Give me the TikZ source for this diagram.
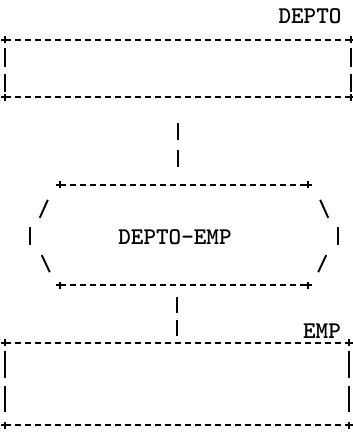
\documentclass[tikz,border=0pt]{standalone}
\usetikzlibrary{calc}
\begin{document}
\begin{tikzpicture}[x=1pt,y=-1pt,
  rule/.style={line width=1.9pt, dash pattern=on 6.5pt off 3.5pt},
  bar/.style={line width=1.9pt},
  link/.style={line width=1.9pt},
  lbl/.style={font=\ttfamily\bfseries\fontsize{24}{24}\selectfont, inner sep=0pt},
  entbox/.style={minimum width=#1, inner sep=0pt, draw=none}
]
\useasboundingbox (0,0) rectangle (353,432);

% entity and relationship frames (invisible, used for anchors)
\node[entbox=346pt, minimum height=57pt] (depto) at (178,68.5) {};
\node[entbox=344pt, minimum height=82pt] (emp) at (177,384) {};
\node[lbl, minimum width=248pt, minimum height=100pt] (rel) at (184,235) {};
\node[lbl] (lrel) at (175,237) {DEPTO-EMP};

% labels
\node[lbl] (ldepto) at (310,16) {DEPTO};
\node[lbl] (lemp) at (322,331) {EMP};

% corner crosses
\tikzset{cross/.pic={\draw[bar] (-3.5,0) -- (3.5,0) (0,-3.5) -- (0,3.5);}}

% DEPTO box
\draw[rule] (depto.north west) -- (depto.north east);
\draw[rule] (depto.south west) -- (depto.south east);
\foreach \c in {north west,north east,south west,south east}
  \pic at (depto.\c) {cross};
\draw[bar] ($(depto.north west)+(0,8)$) -- ++(0,19) ++(0,7) -- ++(0,18);
\draw[bar] ($(depto.north east)+(0,8)$) -- ++(0,19) ++(0,7) -- ++(0,18);

% EMP box
\draw[rule] (emp.north west) -- (emp.north east);
\draw[rule] (emp.south west) -- (emp.south east);
\foreach \c in {north west,north east,south west,south east}
  \pic at (emp.\c) {cross};
\draw[bar] ($(emp.north west)+(0,8)$) -- ++(0,27) ++(0,8) -- ++(0,26);
\draw[bar] ($(emp.north east)+(0,8)$) -- ++(0,27) ++(0,8) -- ++(0,26);

% DEPTO-EMP relationship frame
\draw[rule] (rel.north west) -- (rel.north east);
\draw[rule] (rel.south west) -- (rel.south east);
\foreach \c in {north west,north east,south west,south east}
  \pic at (rel.\c) {cross};
\draw[bar] ($(rel.north west)+(-20,33)$) -- ++(8,-18);
\draw[bar] ($(rel.west)+(-30,-8)$) -- ++(0,18);
\draw[bar] ($(rel.south west)+(-18,-30)$) -- ++(8,17);
\draw[bar] ($(rel.north east)+(12,15)$) -- ++(8,18);
\draw[bar] ($(rel.east)+(30,-8)$) -- ++(0,18);
\draw[bar] ($(rel.south east)+(10,-13)$) -- ++(8,-17);

% connectors
\draw[link, dash pattern=on 17pt off 10pt, shorten <=26pt, shorten >=18pt]
  (depto.south) -- (depto.south |- rel.north);
\draw[link, dash pattern=on 16pt off 7pt, shorten <=12pt, shorten >=5pt]
  (emp.north |- rel.south) -- (emp.north);
\end{tikzpicture}
\end{document}
